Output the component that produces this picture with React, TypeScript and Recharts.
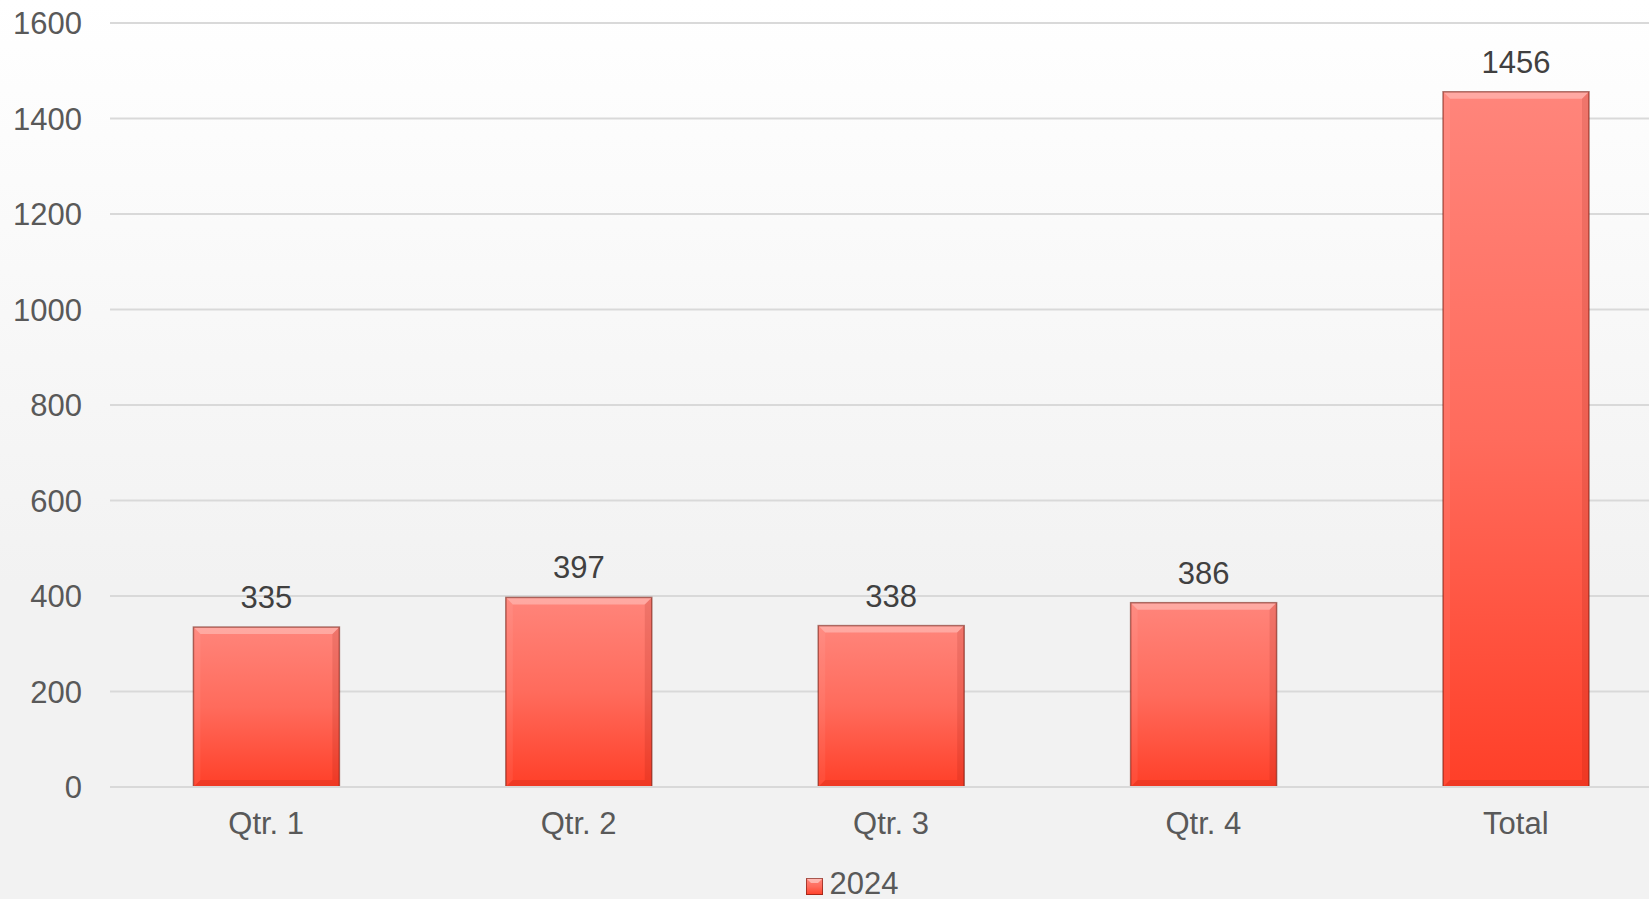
import React from "react";
import {
  BarChart,
  Bar,
  XAxis,
  YAxis,
  CartesianGrid,
  Legend,
  LabelList,
} from "recharts";

const categories = ["Qtr. 1", "Qtr. 2", "Qtr. 3", "Qtr. 4", "Total"];
const values2024 = [335, 397, 338, 386, 1456];
const yTicks = [0, 200, 400, 600, 800, 1000, 1200, 1400, 1600];
const seriesName = "2024";

const data = categories.map((name, i) => ({ name, [seriesName]: values2024[i] }));

const FONT = "'Liberation Sans', Arial, sans-serif";

// bevelled bar like the Excel preset
const BevelBar = (props: any) => {
  const { x, y, width, height } = props;
  if (!height || height <= 0) return null;
  const b = 7;
  return (
    <g>
      <rect x={x} y={y} width={width} height={height} fill="url(#barGrad)" />
      <polygon
        points={`${x},${y} ${x + width},${y} ${x + width - b},${y + b} ${x + b},${y + b}`}
        fill="rgba(255,255,255,0.3)"
      />
      <polygon
        points={`${x},${y} ${x + b},${y + b} ${x + b},${y + height - b} ${x},${y + height}`}
        fill="rgba(255,255,255,0.06)"
      />
      <polygon
        points={`${x + width},${y} ${x + width},${y + height} ${x + width - b},${y + height - b} ${x + width - b},${y + b}`}
        fill="rgba(120,10,0,0.12)"
      />
      <polygon
        points={`${x},${y + height} ${x + width},${y + height} ${x + width - b},${y + height - b} ${x + b},${y + height - b}`}
        fill="rgba(120,10,0,0.12)"
      />
      <rect
        x={x}
        y={y}
        width={width}
        height={height}
        fill="none"
        stroke="rgba(110,20,10,0.55)"
        strokeWidth={1.5}
      />
    </g>
  );
};

const renderLegend = () => (
  <div
    style={{
      display: "flex",
      justifyContent: "center",
      alignItems: "center",
      fontFamily: FONT,
      fontSize: 31,
      lineHeight: "31px",
      color: "#595959",
      paddingLeft: 32,
      transform: "translateY(19px)",
    }}
  >
    <svg width={17} height={17} style={{ marginRight: 7, marginTop: 5 }}>
      <rect x={0} y={0} width={17} height={17} fill="url(#barGrad)" />
      <polygon points="0,0 17,0 12,5 5,5" fill="rgba(255,255,255,0.45)" />
      <rect x={0.5} y={0.5} width={16} height={16} fill="none" stroke="rgba(110,20,10,0.6)" />
    </svg>
    <span>{seriesName}</span>
  </div>
);

export default function App() {
  return (
    <div
      style={{
        position: "absolute",
        left: 0,
        top: 0,
        width: 1649,
        height: 899,
        overflow: "hidden",
        background: "linear-gradient(to bottom, #ffffff 0%, #f8f8f8 35%, #f2f2f2 65%, #f2f2f2 100%)",
      }}
    >
      <BarChart
        width={1672}
        height={899}
        data={data}
        margin={{ top: 23, right: 0, left: 0, bottom: 0 }}
        barCategoryGap="26.7%"
      >
        <defs>
          <linearGradient id="barGrad" x1="0" y1="0" x2="0" y2="1">
            <stop offset="0%" stopColor="#ff857b" />
            <stop offset="50%" stopColor="#ff6b5c" />
            <stop offset="100%" stopColor="#ff3f28" />
          </linearGradient>
        </defs>
        <CartesianGrid vertical={false} stroke="#d9d9d9" strokeWidth={2} />
        <XAxis
          dataKey="name"
          height={62}
          tickLine={false}
          axisLine={{ stroke: "#d9d9d9", strokeWidth: 2 }}
          tickMargin={19}
          tick={{ fill: "#595959", fontSize: 31, fontFamily: FONT }}
        />
        <YAxis
          width={110}
          domain={[0, 1600]}
          ticks={yTicks}
          interval={0}
          axisLine={false}
          tickLine={false}
          tickMargin={22}
          tick={{ fill: "#595959", fontSize: 31, fontFamily: FONT }}
        />
        <Legend verticalAlign="bottom" height={50} content={renderLegend} />
        <Bar dataKey={seriesName} shape={<BevelBar />} isAnimationActive={false}>
          <LabelList
            dataKey={seriesName}
            position="top"
            offset={19}
            fill="#404040"
            fontSize={31}
            fontFamily={FONT}
          />
        </Bar>
      </BarChart>
    </div>
  );
}
